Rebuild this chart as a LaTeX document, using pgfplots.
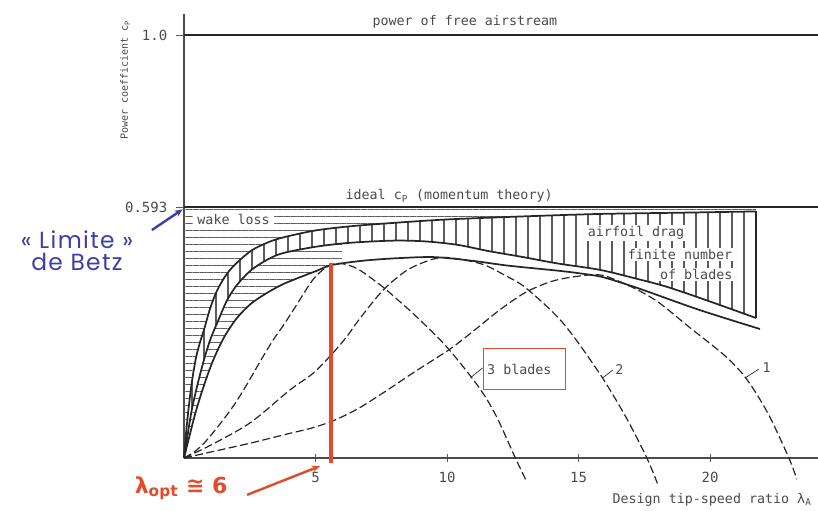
\documentclass[border=0pt]{standalone}
\usepackage{fontspec}
\setmainfont{DejaVu Sans Mono}
\newfontfamily\betzfont[LetterSpace=6]{Poppins}
\newfontfamily\symfont{DejaVu Sans}
\usepackage{pgfplots}
\pgfplotsset{compat=1.18}
\usepgfplotslibrary{fillbetween}
\usetikzlibrary{patterns.meta,arrows.meta}

\definecolor{ink}{HTML}{262626}
\definecolor{hatch}{HTML}{5C5C5C}
\definecolor{txt}{HTML}{4A4A4A}
\definecolor{betzblue}{HTML}{3C3FA6}
\definecolor{optred}{HTML}{E24A2A}

\tikzset{
  curve/.style={ink, line width=1.3pt, smooth, tension=0.5},
  blade/.style={ink, line width=0.9pt, dash pattern=on 6pt off 2.6pt, smooth, tension=0.5},
  lbl/.style={font=\fontsize{10}{12}\selectfont, text=txt},
}

\begin{document}
\begin{tikzpicture}
\begin{axis}[
  set layers,
  x=19.725pt, y=317.25pt,
  xmin=0, xmax=24.1, ymin=0, ymax=1.05,
  axis lines=left,
  axis line style={-, line width=1.1pt, draw=black!70},
  clip=false,
  xtick={5,10,15,20}, xticklabels={5,10,15,20},
  ytick={0.593,1}, yticklabels={0.593,1.0},
  tick align=center, major tick length=6pt,
  tick style={line width=0.7pt, draw=black!65},
  ytick style={xshift=-3pt},
  ticklabel style={font=\fontsize{10.5}{12}\selectfont, text=txt},
  xticklabel style={yshift=-4pt},
  yticklabel style={xshift=-6pt},
]

% reference levels
\addplot[ink, line width=1.1pt] coordinates {(0,1.0) (24.1,1.0)};
\addplot[ink, line width=1.1pt] coordinates {(0,0.593) (24.1,0.593)};
\addplot[draw=none, name path=idealcut] coordinates {(0,0.593) (21.75,0.593)};

% limit with wake rotation
\addplot[curve, name path=W] coordinates {
 (0,0) (0.08,0.06) (0.18,0.12) (0.3,0.18) (0.45,0.235) (0.6,0.272)
 (0.76,0.303) (1.0,0.355) (1.25,0.395) (1.55,0.428) (1.9,0.455)
 (2.55,0.49) (3.2,0.51) (3.8,0.522) (5.0,0.538) (6.35,0.548)
 (8.0,0.556) (10.0,0.564) (12.8,0.571) (15.8,0.577) (18.9,0.58) (21.75,0.583)};

% limit with airfoil drag
\addplot[curve, name path=D] coordinates {
 (0,0) (0.15,0.06) (0.3,0.115) (0.5,0.17) (0.75,0.23) (1.0,0.28)
 (1.3,0.325) (1.63,0.372) (2.0,0.408) (2.55,0.444) (3.2,0.47)
 (3.8,0.485) (5.06,0.5) (6.35,0.509) (8.0,0.514) (9.2,0.512)
 (10.4,0.504) (11.6,0.489) (12.9,0.475) (14.2,0.46) (15.8,0.445)
 (17.2,0.424) (18.4,0.404) (20.0,0.37) (21.75,0.331)};

% envelope for a finite number of blades
\addplot[curve, name path=E] coordinates {
 (0,0) (0.2,0.05) (0.45,0.11) (0.75,0.17) (1.1,0.23) (1.52,0.285)
 (2.0,0.33) (2.55,0.365) (3.2,0.392) (3.8,0.412) (4.6,0.432)
 (5.06,0.443) (5.6,0.456) (6.73,0.466) (8.0,0.472) (9.5,0.475) (11.0,0.466)
 (12.3,0.455) (14.2,0.443) (15.0,0.437) (15.9,0.428) (17.0,0.407)
 (17.7,0.392) (19.6,0.35) (21.9,0.305)};

% hatched loss regions
\addplot[draw=none, pattern={Lines[angle=0,distance=5.25pt,line width=0.45pt]}, pattern color=hatch]
  fill between[of=W and idealcut];
\addplot[draw=none, pattern={Lines[angle=90,distance=9pt,line width=0.8pt]}, pattern color=hatch]
  fill between[of=W and D];
\addplot[draw=none, pattern={Lines[angle=0,distance=5.25pt,line width=0.45pt]}, pattern color=hatch]
  fill between[of=D and E, soft clip={domain=0:6}];
\addplot[ink, line width=1pt] coordinates {(21.75,0.331) (21.75,0.583)};

% rotors with 3, 2 and 1 blades
\addplot[blade] coordinates {
 (0,0) (0.4,0.015) (0.76,0.035) (1.3,0.075) (1.9,0.125) (2.4,0.175)
 (2.93,0.232) (3.4,0.28) (3.76,0.312) (4.18,0.352) (4.79,0.412)
 (5.1,0.435) (5.44,0.452) (5.8,0.46) (6.2,0.457) (6.69,0.444)
 (7.57,0.404) (8.2,0.37) (8.86,0.333) (10.0,0.262)
 (11.1,0.177) (11.6,0.13) (12.0,0.083) (12.6,0.0) (13.0,-0.052)};
\addplot[blade] coordinates {
 (0,0) (1,0.03) (2.51,0.083) (4.03,0.161) (4.9,0.2) (5.63,0.246)
 (6.2,0.288) (6.69,0.33) (7.57,0.397) (8.48,0.444) (9.35,0.468)
 (9.9,0.474) (10.5,0.47) (11.4,0.457) (12.2,0.432) (13.0,0.402)
 (14.4,0.32) (15.8,0.2) (16.8,0.097) (17.6,0.0) (18.0,-0.06)};
\addplot[blade] coordinates {
 (0,0) (1,0.014) (2.51,0.035) (4,0.058) (4.8,0.07) (5.63,0.087)
 (6.6,0.116) (7.57,0.154) (8.8,0.205) (10.1,0.257) (11.0,0.3)
 (12.0,0.35) (13.0,0.392) (14.0,0.418) (15.0,0.43) (15.9,0.432)
 (17.0,0.405) (18.0,0.37) (19.2,0.31) (20.6,0.24) (21.4,0.186)
 (22.2,0.106) (23.0,0.0) (23.3,-0.05)};

% optimum tip-speed ratio
\addplot[optred, line width=3pt] coordinates {(5.6,-0.012) (5.6,0.462)};

% texts
\node[lbl] at (axis cs:10.68,1.031) {power of free airstream};
\node[lbl] at (axis cs:10.08,0.619) {ideal c\textsubscript{P} (momentum theory)};
\node[lbl, fill=white, inner xsep=3pt, inner ysep=1pt, anchor=west] at (axis cs:0.35,0.563) {wake loss};
\node[lbl, fill=white, inner sep=1pt] at (axis cs:17.19,0.532) {airfoil drag};
\node[lbl, fill=white, inner sep=1pt] at (axis cs:18.86,0.48) {finite number};
\node[lbl, fill=white, inner sep=1pt, anchor=east] at (axis cs:20.91,0.433) {of blades};

\node[lbl] at (axis cs:12.75,0.21) {3 blades};
\draw[optred, line width=0.8pt] (axis cs:11.37,0.161) rectangle (axis cs:14.49,0.26);
\draw[ink, line width=0.5pt] (axis cs:10.9,0.19) -- (axis cs:11.35,0.213);
\node[lbl] at (axis cs:16.55,0.208) {2};
\draw[ink, line width=0.5pt] (axis cs:15.93,0.19) -- (axis cs:16.3,0.208);
\node[lbl] at (axis cs:22.15,0.213) {1};
\draw[ink, line width=0.5pt] (axis cs:21.33,0.189) -- (axis cs:21.85,0.21);

\node[rotate=90, font=\fontsize{7.5}{9}\selectfont, text=txt] at (axis cs:-2.24,0.894) {Power coefficient c\textsubscript{P}};
\node[lbl, font=\fontsize{10}{12}\selectfont, anchor=east] at (axis cs:24.04,-0.099) {Design tip-speed ratio λ\textsubscript{A}};

\node[betzblue, font=\betzfont\fontsize{17.5}{16.5}\selectfont, align=center] at (axis cs:-4.07,0.489) {« Limite »\\de Betz};
\draw[betzblue, line width=1.8pt, -{Stealth[length=6pt,width=5pt]}] (axis cs:-1.22,0.539) -- (axis cs:-0.05,0.588);

\node[optred, font=\symfont\bfseries\fontsize{16.5}{18}\selectfont] at (axis cs:-0.11,-0.071) {λ\textsubscript{opt} ≅ 6};
\draw[optred, line width=1.8pt, -{Stealth[length=6pt,width=5pt]}] (axis cs:2.4,-0.087) -- (axis cs:5.17,-0.019);

\coordinate (LL) at (axis cs:-6.996,-0.1229);
\coordinate (UR) at (axis cs:24.106,1.0828);
\end{axis}
\pgfresetboundingbox
\path[use as bounding box] (LL) rectangle (UR);
\end{tikzpicture}
\end{document}
